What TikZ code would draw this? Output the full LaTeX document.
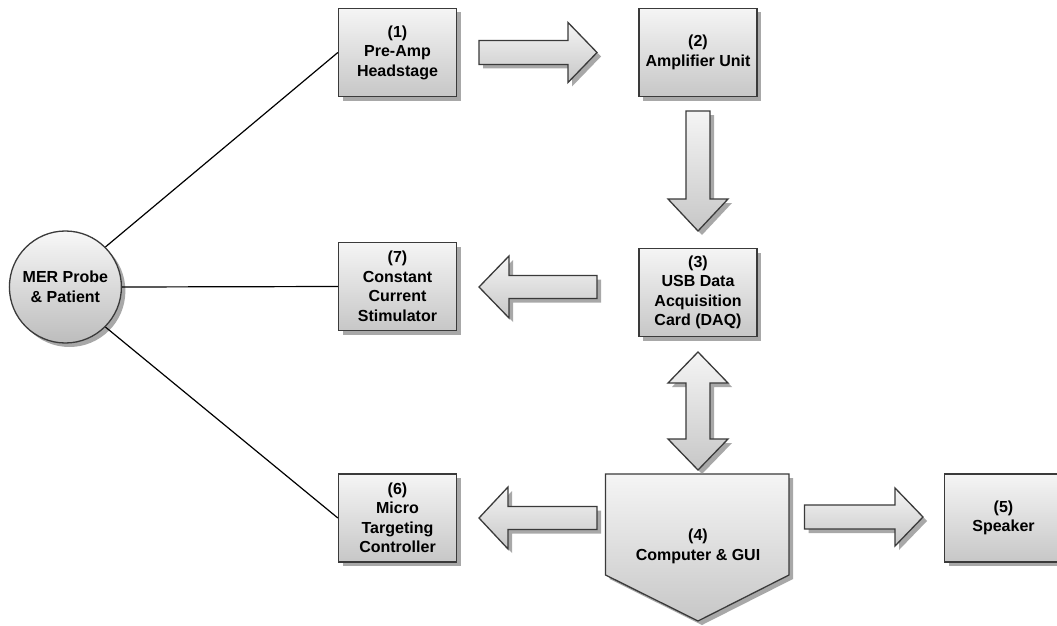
\documentclass[tikz,border=0pt]{standalone}
\usepackage{fontspec}
\setmainfont{Liberation Sans}
\usetikzlibrary{shadows}
\definecolor{edgegray}{HTML}{3A3A3A}
\tikzset{
  x=1pt, y=-1pt,
  myshadow/.style={drop shadow={shadow xshift=4pt, shadow yshift=-4pt, fill=black!45, opacity=0.75}},
  shaded/.style={top color=black!4, bottom color=black!22},
  boxnode/.style={draw=edgegray, line width=1.3pt, shaded, myshadow, rectangle,
    minimum width=118pt, minimum height=88pt, inner sep=0pt, align=center,
    font=\bfseries\fontsize{16}{19.5}\selectfont},
  circnode/.style={draw=edgegray, line width=1.3pt, top color=black!3, bottom color=black!26, myshadow,
    circle, minimum size=112pt, inner sep=0pt, align=center,
    font=\bfseries\fontsize{16}{19.5}\selectfont},
  blockarrow/.style={draw=edgegray, line width=1.3pt, shaded, myshadow, line join=miter},
  textnode/.style={align=center, inner sep=0pt, font=\bfseries\fontsize{16}{19.5}\selectfont},
  link/.style={draw=black, line width=1.2pt},
}
\begin{document}
\begin{tikzpicture}
\useasboundingbox (0,0) rectangle (1057,626);
\clip (0,0) rectangle (1057,626);
\fill[white] (0,0) rectangle (1057,626);

% nodes
\node[circnode] (mer) at (65.4,287) {MER Probe\\\& Patient};
\node[boxnode] (b1) at (397.5,52.5) {(1)\\Pre-Amp\\Headstage};
\node[boxnode] (b2) at (698,52.5) {(2)\\Amplifier Unit};
\node[boxnode] (b3) at (698,292.5) {(3)\\USB Data\\Acquisition\\Card (DAQ)};
\node[boxnode] (b7) at (397.5,286.5) {(7)\\Constant\\Current\\Stimulator};
\node[boxnode] (b6) at (397.5,518) {(6)\\Micro\\Targeting\\Controller};
\node[boxnode] (b5) at (1003.5,518) {(5)\\Speaker};

% pentagon (4)
\path[blockarrow] (605.5,474) -- (789,474) -- (789,575) -- (698,621) -- (605.5,575) -- cycle;
\node[textnode] (b4) at (698,546.5) {(4)\\Computer \& GUI};

% connectors
\draw[link] (mer.45) -- (b1.west);
\draw[link] (mer.east) -- (b7.west);
\draw[link] (mer.-45) -- (b6.west);

% block arrows
% (1) -> (2)
\path[blockarrow] (479,40.5) -- (568,40.5) -- (568,22.5) -- (597,52.5) -- (568,82.5) -- (568,64.5) -- (479,64.5) -- cycle;
% (2) -> (3)
\path[blockarrow] (686,111) -- (710,111) -- (710,199) -- (728,199) -- (698,231) -- (668,199) -- (686,199) -- cycle;
% (3) -> (7)
\path[blockarrow] (597,275.5) -- (509,275.5) -- (509,256) -- (479,287) -- (509,318) -- (509,298.5) -- (597,298.5) -- cycle;
% (3) <-> (4)
\path[blockarrow] (698,352) -- (728,383) -- (710,383) -- (710,439) -- (728,439) -- (698,470) -- (668,439) -- (686,439) -- (686,383) -- (668,383) -- cycle;
% (4) -> (6)
\path[blockarrow] (597,506.5) -- (508,506.5) -- (508,487) -- (479,518) -- (508,549) -- (508,529.5) -- (597,529.5) -- cycle;
% (4) -> (5)
\path[blockarrow] (804.5,505) -- (895,505) -- (895,488) -- (923,517) -- (895,546) -- (895,529) -- (804.5,529) -- cycle;
\end{tikzpicture}
\end{document}
